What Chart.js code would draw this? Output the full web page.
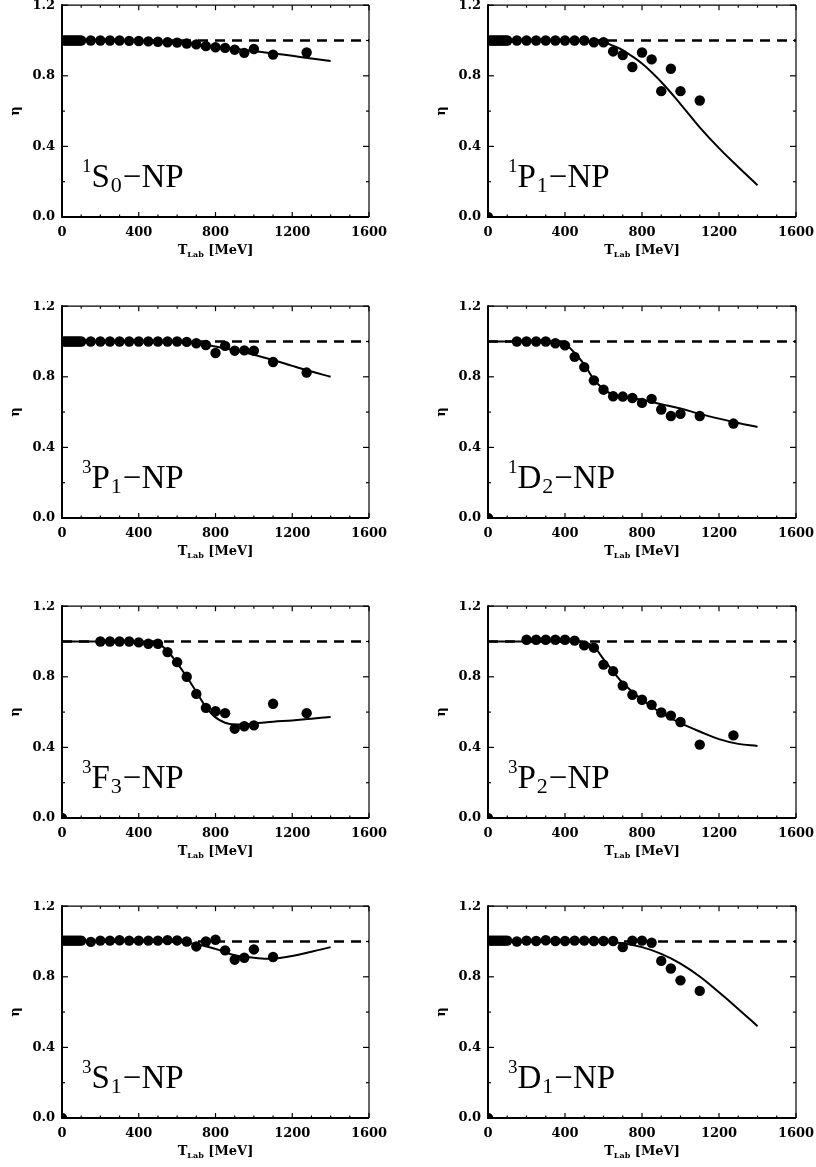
<!DOCTYPE html>
<html>
<head>
<meta charset="utf-8">
<script src="https://cdn.jsdelivr.net/npm/chart.js@4.4.0/dist/chart.umd.min.js"></script>
<style>
html,body{margin:0;padding:0;background:#fff;width:816px;height:1167px;overflow:hidden;}
.p{position:absolute;}
canvas{display:block;}
</style>
</head>
<body>
<script>
// ---------- axis settings ----------
const X_MIN = 0, X_MAX = 1600, X_STEP = 400, X_MINOR_STEP = 100;
const Y_MIN = 0, Y_MAX = 1.2, Y_STEP = 0.4, Y_MINOR_STEP = 0.2;
const X_TITLE_MAIN = 'T', X_TITLE_SUB = 'Lab', X_TITLE_TAIL = ' [MeV]';
const Y_TITLE = 'η';

// unitarity reference (dashed line)
const UNIT_T = [0, 1600];
const UNIT_ETA = [1.0, 1.0];

// ---------- panel labels ----------
const LABEL_SUP  = ['1', '1', '3', '1', '3', '3', '3', '3'];
const LABEL_MAIN = ['S', 'P', 'P', 'D', 'F', 'P', 'S', 'D'];
const LABEL_SUB  = ['0', '1', '1', '2', '3', '2', '1', '1'];
const LABEL_TAIL = '−NP';
// panels showing the clipped point at the origin
const ORIGIN_T = [0];
const ORIGIN_ETA = [0];
const HAS_ORIGIN = [false, true, false, true, true, true, true, true];

// ---------- 1S0 ----------
const S0_T   = [10,20,30,40,50,60,70,80,90,100,150,200,250,300,350,400,450,500,550,600,650,700,750,800,850,900,950,1000,1100,1275];
const S0_ETA = [1.0,1.0,1.0,1.0,1.0,1.0,1.0,1.0,1.0,1.0,1.0,1.0,1.0,1.0,0.998,0.997,0.995,0.993,0.99,0.988,0.983,0.978,0.968,0.962,0.958,0.948,0.93,0.952,0.92,0.932];
const S0_FIT_T   = [0,100,200,300,400,500,600,700,800,900,1000,1100,1200,1300,1400];
const S0_FIT_ETA = [1.0,1.0,1.0,0.999,0.997,0.994,0.988,0.978,0.966,0.953,0.94,0.927,0.913,0.898,0.884];

// ---------- 1P1 ----------
const P1S_T   = [10,20,30,40,50,60,70,80,90,100,150,200,250,300,350,400,450,500,550,600,650,700,750,800,850,900,950,1000,1100];
const P1S_ETA = [1.0,1.0,1.0,1.0,1.0,1.0,1.0,1.0,1.0,1.0,1.0,1.0,1.0,1.0,1.0,1.0,1.0,1.0,0.99,0.99,0.938,0.918,0.85,0.932,0.893,0.713,0.84,0.713,0.66];
const P1S_FIT_T   = [0,100,200,300,400,500,600,650,700,800,900,1000,1100,1200,1300,1400];
const P1S_FIT_ETA = [1.0,1.0,1.0,1.0,1.0,0.998,0.99,0.97,0.945,0.87,0.765,0.64,0.508,0.39,0.283,0.18];

// ---------- 3P1 ----------
const P1T_T   = [10,20,30,40,50,60,70,80,90,100,150,200,250,300,350,400,450,500,550,600,650,700,750,800,850,900,950,1000,1100,1275];
const P1T_ETA = [1.0,1.0,1.0,1.0,1.0,1.0,1.0,1.0,1.0,1.0,1.0,1.0,1.0,1.0,1.0,1.0,1.0,1.0,1.0,1.0,0.998,0.99,0.98,0.935,0.975,0.948,0.95,0.948,0.884,0.824];
const P1T_FIT_T   = [0,100,200,300,400,500,600,700,800,900,1000,1100,1200,1300,1400];
const P1T_FIT_ETA = [1.0,1.0,1.0,1.0,1.0,1.0,0.998,0.99,0.972,0.95,0.925,0.895,0.862,0.83,0.8];

// ---------- 1D2 ----------
const D2_T   = [150,200,250,300,350,400,450,500,550,600,650,700,750,800,850,900,950,1000,1100,1275];
const D2_ETA = [1.0,1.0,1.0,1.0,0.99,0.978,0.913,0.855,0.78,0.727,0.69,0.688,0.68,0.652,0.675,0.615,0.578,0.59,0.578,0.535];
const D2_FIT_T   = [0,100,200,300,350,400,450,500,550,600,650,700,800,900,1000,1100,1200,1300,1400];
const D2_FIT_ETA = [1.0,1.0,1.0,1.0,0.998,0.985,0.935,0.87,0.785,0.73,0.698,0.685,0.67,0.645,0.62,0.59,0.563,0.538,0.516];

// ---------- 3F3 ----------
const F3_T   = [200,250,300,350,400,450,500,550,600,650,700,750,800,850,900,950,1000,1100,1275];
const F3_ETA = [1.0,1.0,1.0,1.0,0.995,0.987,0.987,0.94,0.883,0.8,0.703,0.624,0.605,0.594,0.506,0.52,0.525,0.647,0.594];
const F3_FIT_T   = [0,100,200,300,400,450,500,550,600,650,700,750,800,850,900,1000,1100,1200,1300,1400];
const F3_FIT_ETA = [1.0,1.0,1.0,1.0,1.0,0.998,0.99,0.945,0.878,0.8,0.715,0.63,0.57,0.54,0.53,0.535,0.545,0.553,0.563,0.572];

// ---------- 3P2 ----------
const P2_T   = [200,250,300,350,400,450,500,550,600,650,700,750,800,850,900,950,1000,1100,1275];
const P2_ETA = [1.01,1.01,1.01,1.01,1.01,1.005,0.978,0.965,0.869,0.832,0.75,0.698,0.67,0.641,0.598,0.58,0.544,0.416,0.468];
const P2_FIT_T   = [0,100,200,300,400,500,550,600,650,700,800,900,1000,1100,1200,1300,1400];
const P2_FIT_ETA = [1.0,1.0,1.0,1.0,1.0,0.995,0.97,0.9,0.83,0.765,0.67,0.595,0.538,0.49,0.447,0.42,0.408];

// ---------- 3S1 ----------
const S1_T   = [10,20,30,40,50,60,70,80,90,100,150,200,250,300,350,400,450,500,550,600,650,700,750,800,850,900,950,1000,1100];
const S1_ETA = [1.005,1.005,1.005,1.005,1.005,1.005,1.005,1.005,1.005,1.005,0.998,1.005,1.005,1.007,1.005,1.005,1.005,1.005,1.008,1.006,1.0,0.972,1.0,1.01,0.95,0.897,0.908,0.955,0.912];
const S1_FIT_T   = [0,100,200,300,400,500,600,700,800,900,1000,1100,1200,1300,1400];
const S1_FIT_ETA = [1.0,1.0,1.0,1.0,1.0,1.0,0.998,0.985,0.958,0.922,0.908,0.902,0.918,0.942,0.968];

// ---------- 3D1 ----------
const D1_T   = [10,20,30,40,50,60,70,80,90,100,150,200,250,300,350,400,450,500,550,600,650,700,750,800,850,900,950,1000,1100];
const D1_ETA = [1.005,1.005,1.005,1.005,1.005,1.005,1.005,1.005,1.005,1.005,1.0,1.005,1.003,1.007,1.003,1.003,1.005,1.005,1.003,1.003,1.003,0.968,1.005,1.005,0.993,0.89,0.847,0.78,0.72];
const D1_FIT_T   = [0,100,200,300,400,500,600,700,800,900,1000,1100,1200,1300,1400];
const D1_FIT_ETA = [1.0,1.0,1.0,1.0,1.0,1.0,0.998,0.99,0.968,0.93,0.875,0.802,0.712,0.618,0.52];

const DATA_T   = [S0_T, P1S_T, P1T_T, D2_T, F3_T, P2_T, S1_T, D1_T];
const DATA_ETA = [S0_ETA, P1S_ETA, P1T_ETA, D2_ETA, F3_ETA, P2_ETA, S1_ETA, D1_ETA];
const FIT_T    = [S0_FIT_T, P1S_FIT_T, P1T_FIT_T, D2_FIT_T, F3_FIT_T, P2_FIT_T, S1_FIT_T, D1_FIT_T];
const FIT_ETA  = [S0_FIT_ETA, P1S_FIT_ETA, P1T_FIT_ETA, D2_FIT_ETA, F3_FIT_ETA, P2_FIT_ETA, S1_FIT_ETA, D1_FIT_ETA];

// ---------- layout ----------
const ROW_TOP = [0, 301, 601, 901];
const CANVAS_H = 290;
const TICK_FONT = {family: '"DejaVu Serif", serif', size: 13, weight: 'bold'};

const zip = (xs, ys) => xs.map((v, k) => ({x: v, y: ys[k]}));

const framePlugin = {
  id: 'frame',
  afterDatasetsDraw(chart, args, opts) {
    const i = opts.panel;
    const {ctx, chartArea: a, scales: {x, y}} = chart;
    ctx.save();
    ctx.strokeStyle = '#000';
    ctx.fillStyle = '#000';
    const line = (x1, y1, x2, y2) => { ctx.beginPath(); ctx.moveTo(x1, y1); ctx.lineTo(x2, y2); ctx.stroke(); };
    // frame
    ctx.lineWidth = 2;
    line(a.left, a.top - 1, a.left, a.bottom + 1);
    line(a.left, a.bottom, a.right, a.bottom);
    ctx.lineWidth = 1.2;
    line(a.left, a.top, a.right, a.top);
    line(a.right, a.top, a.right, a.bottom);
    // x ticks (inward, top and bottom)
    ctx.lineWidth = 1.2;
    const nx = Math.round((X_MAX - X_MIN) / X_MINOR_STEP);
    for (let k = 0; k <= nx; k++) {
      const v = X_MIN + k * X_MINOR_STEP;
      const px = x.getPixelForValue(v);
      const len = (k % Math.round(X_STEP / X_MINOR_STEP) === 0) ? 5 : 2.5;
      line(px, a.bottom, px, a.bottom - len);
      line(px, a.top, px, a.top + len);
    }
    const ny = Math.round((Y_MAX - Y_MIN) / Y_MINOR_STEP);
    for (let k = 0; k <= ny; k++) {
      const v = Y_MIN + k * Y_MINOR_STEP;
      const py = y.getPixelForValue(v);
      const len = (k % Math.round(Y_STEP / Y_MINOR_STEP) === 0) ? 6 : 3;
      line(a.left, py, a.left + len, py);
      line(a.right, py, a.right - len, py);
    }
    // x title
    const fMain = 'bold 13px "DejaVu Serif", serif';
    const fSub = 'bold 8px "DejaVu Serif", serif';
    ctx.textBaseline = 'alphabetic';
    ctx.textAlign = 'left';
    ctx.font = fMain; const w1 = ctx.measureText(X_TITLE_MAIN).width; const w3 = ctx.measureText(X_TITLE_TAIL).width;
    ctx.font = fSub; const w2 = ctx.measureText(X_TITLE_SUB).width;
    let tx = (a.left + a.right) / 2 - (w1 + w2 + w3) / 2;
    const ty = a.bottom + 37;
    ctx.font = fMain; ctx.fillText(X_TITLE_MAIN, tx, ty); tx += w1;
    ctx.font = fSub; ctx.fillText(X_TITLE_SUB, tx, ty + 3); tx += w2;
    ctx.font = fMain; ctx.fillText(X_TITLE_TAIL, tx, ty);
    // panel label
    let lx = a.left + 20;
    const by = a.bottom - 30;
    const fam = '"Liberation Serif", "Times New Roman", serif';
    ctx.font = '19px ' + fam; ctx.fillText(LABEL_SUP[i], lx, by - 15); lx += ctx.measureText(LABEL_SUP[i]).width;
    ctx.font = '33px ' + fam; ctx.fillText(LABEL_MAIN[i], lx, by); lx += ctx.measureText(LABEL_MAIN[i]).width + 1;
    ctx.font = '22px ' + fam; ctx.fillText(LABEL_SUB[i], lx, by + 5); lx += ctx.measureText(LABEL_SUB[i]).width + 1;
    ctx.font = '33px ' + fam; ctx.fillText(LABEL_TAIL, lx, by);
    ctx.restore();
  }
};

for (let i = 0; i < 8; i++) {
  const col = i % 2, row = Math.floor(i / 2);
  const W = col ? 410 : 406;
  const div = document.createElement('div');
  div.className = 'p';
  div.style.left = (col ? 406 : 0) + 'px';
  div.style.top = ROW_TOP[row] + 'px';
  const cv = document.createElement('canvas');
  cv.width = W; cv.height = CANVAS_H;
  cv.style.width = W + 'px'; cv.style.height = CANVAS_H + 'px';
  div.appendChild(cv);
  document.body.appendChild(div);

  const datasets = [
    {label: 'data', data: zip(DATA_T[i], DATA_ETA[i]), showLine: false, pointRadius: 5.2,
     pointBackgroundColor: '#000', pointBorderWidth: 0, order: 0, clip: 0},
    {label: 'fit', data: zip(FIT_T[i], FIT_ETA[i]), showLine: true, borderColor: '#000', borderWidth: 2,
     pointRadius: 0, tension: 0.4, order: 1, clip: 0},
    {label: 'unitarity', data: zip(UNIT_T, UNIT_ETA), showLine: true, borderColor: '#000', borderWidth: 2.6,
     borderDash: [10, 7], pointRadius: 0, order: 2, clip: 0}
  ];
  if (HAS_ORIGIN[i]) {
    datasets.push({label: 'origin', data: zip(ORIGIN_T, ORIGIN_ETA), showLine: false, pointRadius: 5.2,
      pointBackgroundColor: '#000', pointBorderWidth: 0, order: 0, clip: 0});
  }

  new Chart(cv, {
    type: 'scatter',
    data: {datasets},
    plugins: [framePlugin],
    options: {
      responsive: false,
      animation: false,
      devicePixelRatio: 1,
      layout: {padding: {left: col ? 20 : 0, right: col ? 20 : 37, top: 4, bottom: 0}},
      plugins: {legend: {display: false}, tooltip: {enabled: false}, frame: {panel: i}},
      scales: {
        x: {
          type: 'linear', min: X_MIN, max: X_MAX,
          ticks: {stepSize: X_STEP, color: '#000', font: TICK_FONT, padding: 8, maxRotation: 0,
                  callback: v => String(v)},
          grid: {display: false, drawTicks: false},
          border: {display: false},
          afterFit: s => { s.height = CANVAS_H - 4 - 213; s.paddingLeft = 0; s.paddingRight = 0; }
        },
        y: {
          type: 'linear', min: Y_MIN, max: Y_MAX,
          ticks: {stepSize: Y_STEP, color: '#000', font: TICK_FONT, padding: 7,
                  callback: v => Number(v).toFixed(1)},
          grid: {display: false, drawTicks: false},
          border: {display: false},
          title: {display: true, text: Y_TITLE, color: '#000',
                  font: {family: '"DejaVu Serif", serif', size: 13, weight: 'bold'}, padding: {top: 8, bottom: 0}},
          afterFit: s => { s.width = 62; s.paddingTop = 0; s.paddingBottom = 0; }
        }
      }
    }
  });
}
</script>
</body>
</html>
